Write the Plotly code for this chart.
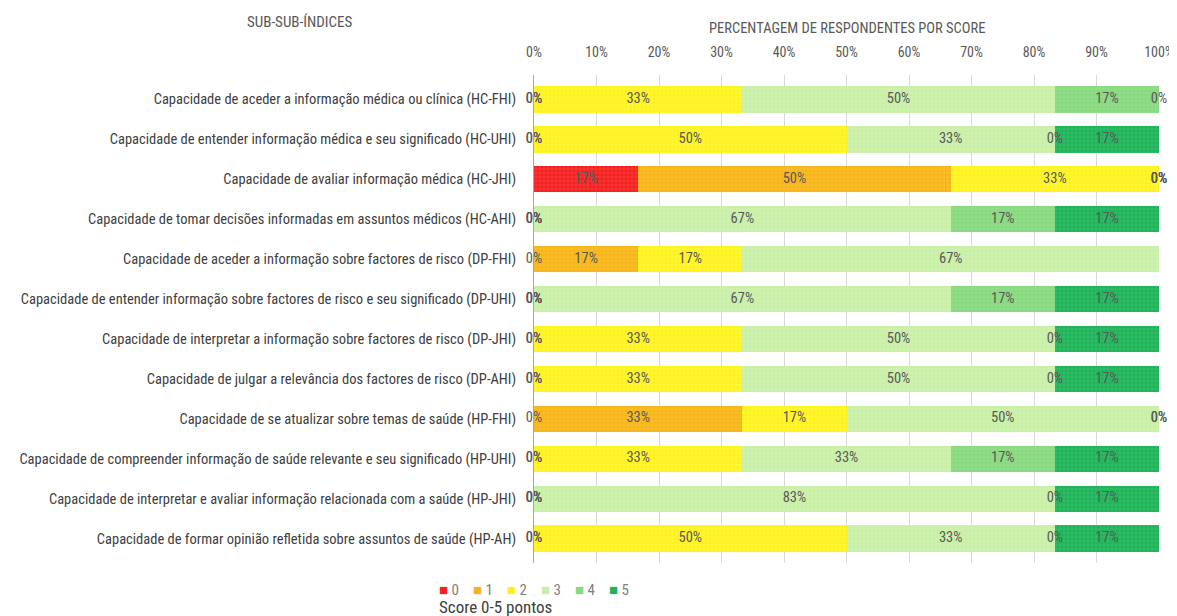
import plotly.graph_objects as go

# --- dados (percentagem de respondentes por score) ---
categorias = [
    "Capacidade de aceder a informação médica ou clínica (HC-FHI)",
    "Capacidade de entender informação médica e seu significado (HC-UHI)",
    "Capacidade de avaliar informação médica (HC-JHI)",
    "Capacidade de tomar decisões informadas em assuntos médicos (HC-AHI)",
    "Capacidade de aceder a informação sobre factores de risco (DP-FHI)",
    "Capacidade de entender informação sobre factores de risco e seu significado (DP-UHI)",
    "Capacidade de interpretar a informação sobre factores de risco (DP-JHI)",
    "Capacidade de julgar a relevância dos factores de risco (DP-AHI)",
    "Capacidade de se atualizar sobre temas de saúde (HP-FHI)",
    "Capacidade de compreender informação de saúde relevante e seu significado (HP-UHI)",
    "Capacidade de interpretar e avaliar informação relacionada com a saúde (HP-JHI)",
    "Capacidade de formar opinião refletida sobre assuntos de saúde (HP-AH)",
]

score_0 = [0, 0, 16.67, 0, 0, 0, 0, 0, 0, 0, 0, 0]
score_1 = [0, 0, 50.0, 0, 16.67, 0, 0, 0, 33.33, 0, 0, 0]
score_2 = [33.33, 50.0, 33.33, 0, 16.67, 0, 33.33, 33.33, 16.67, 33.33, 0, 50.0]
score_3 = [50.0, 33.33, 0, 66.67, 66.67, 66.67, 50.0, 50.0, 50.0, 33.33, 83.33, 33.33]
score_4 = [16.67, 0, 0, 16.67, 0, 16.67, 0, 0, 0, 16.67, 0, 0]
score_5 = [0, 16.67, 0, 16.67, 0, 16.67, 16.67, 16.67, 0, 16.67, 16.67, 16.67]

series = [score_0, score_1, score_2, score_3, score_4, score_5]
nomes = ["0", "1", "2", "3", "4", "5"]
cores = ["#F41E1E", "#F7B419", "#FFF21A", "#C8EFA6", "#86D97C", "#1DB458"]
cores_padrao = ["#FF6A6A", "#FFD24D", "#FFFF80", "#DDF7C6", "#B2E8A8", "#5FCC86"]

fonte = "Liberation Sans Narrow, Roboto Condensed, Arial Narrow, sans-serif"

# a página html tem 8px de margem no body -> figura um pouco mais pequena
W, H = 1169, 608
L, R, T, B = 526, 18, 67, 53
PW = W - L - R

fig = go.Figure()

for vals, nome, cor, cp in zip(series, nomes, cores, cores_padrao):
    fig.add_trace(go.Bar(
        y=categorias, x=vals, name=nome, orientation="h",
        marker=dict(color=cor, line=dict(width=0),
                    pattern=dict(shape="+", size=4, solidity=0.3, fgcolor=cp)),
        hoverinfo="skip", showlegend=False,
    ))

# rótulos de percentagem no centro de cada segmento (também para os 0%)
lx, ly, lt = [], [], []
for i, cat in enumerate(categorias):
    acum = 0
    for vals in series:
        v = vals[i]
        lx.append(acum + v / 2)
        ly.append(cat)
        lt.append(f"{round(v):.0f}%")
        acum += v
fig.add_trace(go.Scatter(
    x=lx, y=ly, text=lt, mode="text", showlegend=False, hoverinfo="skip",
    textfont=dict(family=fonte, size=14.5, color="#595959"), cliponaxis=False,
))

# legenda desenhada à mão (quadrado colorido + score), como no original
anotacoes = []
for k, (nome, cor) in enumerate(zip(nomes, cores)):
    anotacoes.append(dict(
        text=f"<span style='color:{cor}'>■</span> {nome}",
        xref="paper", yref="paper", x=(-97 + 34 * k) / PW, y=0.0,
        yshift=-27, xanchor="left", yanchor="middle", showarrow=False,
        font=dict(family=fonte, size=15, color="#7F7F7F"),
    ))

anotacoes += [
    dict(text="SUB-SUB-ÍNDICES", xref="paper", yref="paper",
         x=-234.5 / PW, y=1.0, yshift=53, xanchor="center", yanchor="middle", showarrow=False,
         font=dict(family=fonte, size=15, color="#595959")),
    dict(text="PERCENTAGEM DE RESPONDENTES POR SCORE", xref="paper", yref="paper",
         x=0.5, y=1.0, yshift=47, xanchor="center", yanchor="middle", showarrow=False,
         font=dict(family=fonte, size=14.5, color="#595959")),
    dict(text="Score 0-5 pontos", xref="paper", yref="paper",
         x=-97 / PW, y=0.0, yshift=-44, xanchor="left", yanchor="middle",
         showarrow=False, font=dict(family=fonte, size=17, color="#404040")),
]

fig.update_layout(
    width=W, height=H,
    barmode="stack", bargap=0.34,
    paper_bgcolor="white", plot_bgcolor="white",
    margin=dict(l=L, r=R, t=T, b=B, autoexpand=False),
    font=dict(family=fonte, size=14.5, color="#404040"),
    showlegend=False,
    xaxis=dict(
        side="top", range=[0, 100], dtick=10, ticksuffix="%",
        showgrid=True, gridcolor="#D9D9D9", gridwidth=1, zeroline=False,
        tickfont=dict(family=fonte, size=14, color="#595959"),
        ticks="", ticklabelstandoff=14,
    ),
    yaxis=dict(
        autorange="reversed", showline=True, linecolor="#A6A6A6",
        ticks="", ticklabelstandoff=14,
        tickfont=dict(family=fonte, size=14.5, color="#404040"),
    ),
    annotations=anotacoes,
)

fig.write_html("out.html")
